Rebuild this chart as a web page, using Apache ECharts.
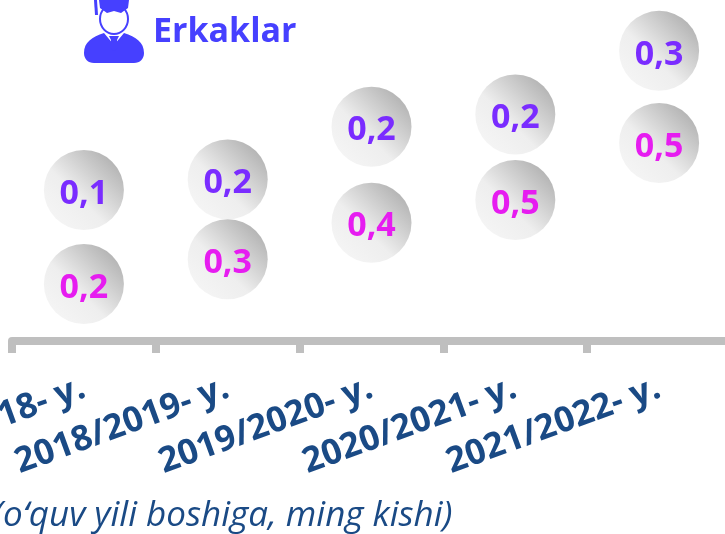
<!DOCTYPE html>
<html><head><meta charset="utf-8">
<style>html,body{margin:0;padding:0;background:#fff;overflow:hidden}#c{width:725px;height:534px}</style>
<script src="https://cdn.jsdelivr.net/npm/echarts@6/dist/echarts.min.js"></script>
</head><body><div id="c"></div>
<script>
const categories = ['2017/2018- y.','2018/2019- y.','2019/2020- y.','2020/2021- y.','2021/2022- y.'];
const upperHeights = [0.53,0.567,0.752,0.795,1.018];
const lowerHeights = [0.20,0.287,0.415,0.495,0.695];
const upperLabels = ['0,1','0,2','0,2','0,2','0,3'];
const lowerLabels = ['0,2','0,3','0,4','0,5','0,5'];
const legendText = 'Erkaklar';
const noteText = '(oʻquv yili boshiga, ming kishi)';

const FONT = '"Open Sans","Noto Sans",sans-serif';
const BLUE = '#1a4a85';
const ICON = '#4640ff';
echarts.graphic.registerShape('iconBody', echarts.graphic.extendShape({
  shape:{},
  buildPath(ctx){
    ctx.moveTo(0,55);
    ctx.bezierCurveTo(0,44,8,39,20,35);
    ctx.lineTo(30,47);ctx.lineTo(40,35);
    ctx.bezierCurveTo(52,39,60,44,60,55);
    ctx.bezierCurveTo(60,61,56,65,50,65);
    ctx.lineTo(10,65);
    ctx.bezierCurveTo(4,65,0,61,0,55);
    ctx.closePath();
  }
}));
const bubble = () => new echarts.graphic.LinearGradient(0,1,1,0,[
  {offset:0.15,color:'#f4f4f4'},{offset:0.42,color:'#eeeeee'},{offset:0.85,color:'#b6b6b6'}]);
function mk(name,vals,labels,color){
  return {type:'scatter',name,symbol:'circle',symbolSize:80,data:vals,
    itemStyle:{color:bubble(),opacity:1},
    label:{show:true,position:'inside',offset:[0,4],formatter:p=>labels[p.dataIndex],
      color,fontFamily:FONT,fontWeight:'bold',fontSize:34},
    silent:true};
}
const chart = echarts.init(document.getElementById('c'),null,{renderer:'canvas'});
chart.setOption({
  animation:false,backgroundColor:'#fff',
  grid:{left:12,top:-1,width:719,height:342,outerBoundsMode:'none'},
  xAxis:{type:'category',data:categories,boundaryGap:true,
    axisLine:{show:true,lineStyle:{color:'#bfbfbf',width:8}},
    axisTick:{show:true,alignWithLabel:false,length:12,lineStyle:{color:'#bfbfbf',width:8}},
    axisLabel:{interval:0,rotate:20,color:BLUE,fontFamily:FONT,fontWeight:'bold',fontSize:35,margin:46,hideOverlap:false}},
  yAxis:{type:'value',min:0,max:1.2,show:false,splitLine:{show:false}},
  series:[mk('upper',upperHeights,upperLabels,'#7a2cff'),mk('lower',lowerHeights,lowerLabels,'#e61cf0')],
  graphic:[
    {type:'text',x:153,y:15,style:{text:legendText,fill:ICON,font:'bold 34px '+FONT}},
    {type:'text',x:-7,y:499,style:{text:noteText,fill:BLUE,font:'italic 35px '+FONT}},
    {type:'group',x:84,y:-2,children:[
      {type:'iconBody',shape:{},style:{fill:ICON}},
      {type:'polygon',shape:{points:[[25,38],[35,38],[33,42],[34,50],[30,53],[26,50],[27,42]]},style:{fill:ICON}},
      {type:'ellipse',shape:{cx:30,cy:21,rx:14,ry:15},style:{fill:'#fff',stroke:ICON,lineWidth:2}},
      {type:'polygon',shape:{points:[[15,2],[45,2],[44,10],[37,15],[30,13],[23,15],[16,10]]},style:{fill:ICON}},
      {type:'polygon',shape:{points:[[10,2],[13,2],[14,17],[11,17]]},style:{fill:ICON}}
    ]}
  ]
});
</script></body></html>
